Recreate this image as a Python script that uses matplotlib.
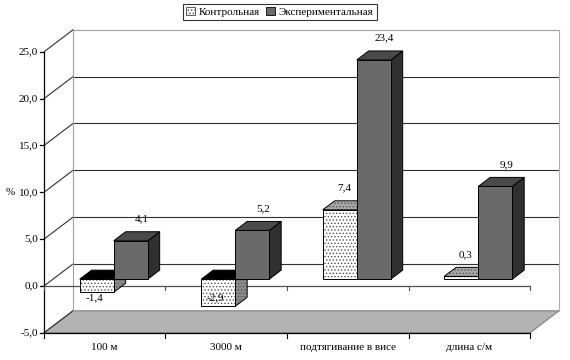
import matplotlib
matplotlib.use('Agg')
import matplotlib.pyplot as plt
from matplotlib.patches import Polygon, Patch

plt.rcParams['font.family'] = ['Liberation Serif', 'DejaVu Serif']
plt.rcParams['hatch.linewidth'] = 0.6

# data
categories = ['100 м', '3000 м', 'подтягивание в висе', 'длина с/м']
series = ['Контрольная', 'Экспериментальная']
control = [-1.4, -2.9, 7.4, 0.3]
experiment = [4.1, 5.2, 23.4, 9.9]
yticks = [-5, 0, 5, 10, 15, 20, 25]

# 3d look (in data units)
DX, DY = 0.239, 2.35          # wall depth
F0, F1 = 0.31, 0.72           # bar front / back depth fraction
BW = 0.28                     # bar width

fig = plt.figure(figsize=(5.7, 3.6), dpi=100)
ax = fig.add_axes([0, 0, 1, 1])
ax.set_xlim(-0.362, 4.329)
ax.set_ylim(-7.90, 30.53)
ax.axis('off')

ymin, ymax = yticks[0], yticks[-1]
n = len(categories)

# floor
ax.add_patch(Polygon([(0, ymin), (n, ymin), (n + DX, ymin + DY), (DX, ymin + DY)],
                     closed=True, facecolor='#b3b3b3', edgecolor='#808080', lw=0.8, zorder=1))
# back wall grid and side wall diagonals
for v in yticks:
    col = '#a0a0a0' if v == ymax else '#303030'
    if v != ymin:
        ax.plot([DX, n + DX], [v + DY, v + DY], color=col, lw=0.8, zorder=2)
    ax.plot([0, DX], [v, v + DY], color='#303030', lw=0.8, zorder=2)
ax.plot([DX, DX], [ymin + DY, ymax + DY], color='#a0a0a0', lw=0.8, zorder=2)
ax.plot([n + DX, n + DX], [ymin + DY, ymax + DY], color='#b0b0b0', lw=0.8, zorder=2)

# front value axis
ax.plot([0, 0], [ymin, ymax], color='black', lw=0.9, zorder=3)
for v in yticks:
    ax.plot([-0.035, 0], [v, v], color='black', lw=0.9, zorder=3)
    ax.text(-0.05, v, f'{v:.1f}'.replace('.', ','), ha='right', va='center', fontsize=8)
ax.text(-0.28, 10, '%', ha='center', va='center', fontsize=8)

# category axis lines (0 level and floor level)
ax.plot([0, n], [0, 0], color='#505050', lw=0.9, zorder=3)
ax.plot([0, n], [ymin, ymin], color='black', lw=0.9, zorder=3)
for i in range(n + 1):
    ax.plot([i, i], [0, -0.45], color='#505050', lw=0.8, zorder=3)
    ax.plot([i, i], [ymin, ymin - 0.55], color='black', lw=0.8, zorder=3)
for i, c in enumerate(categories):
    ax.text(i + 0.5, ymin - 1.6, c, ha='center', va='center', fontsize=8)


def bar(x0, v, front, top, side, hatch=None, z=5):
    x1 = x0 + BW
    b, t = min(0, v), max(0, v)
    ax0, ay0 = F0 * DX, F0 * DY
    ax1, ay1 = F1 * DX, F1 * DY
    faces = [
        ([(x1 + ax0, b + ay0), (x1 + ax1, b + ay1), (x1 + ax1, t + ay1), (x1 + ax0, t + ay0)], side),
        ([(x0 + ax0, t + ay0), (x1 + ax0, t + ay0), (x1 + ax1, t + ay1), (x0 + ax1, t + ay1)], top),
        ([(x0 + ax0, b + ay0), (x1 + ax0, b + ay0), (x1 + ax0, t + ay0), (x0 + ax0, t + ay0)], front),
    ]
    for pts, fc in faces:
        if hatch and fc != 'black':
            ax.add_patch(Polygon(pts, closed=True, facecolor=fc, edgecolor='#505050',
                                 hatch=hatch, lw=0, zorder=z))
            ax.add_patch(Polygon(pts, closed=True, fill=False, edgecolor='black', lw=0.7, zorder=z))
        else:
            ax.add_patch(Polygon(pts, closed=True, facecolor=fc, edgecolor='black', lw=0.7, zorder=z))


def label(x, v, dx):
    s = f'{v:.1f}'.replace('.', ',')
    if v >= 0:
        ax.text(x + dx, v + F0 * DY + 2.35, s, ha='center', va='center', fontsize=8, zorder=10)
    else:
        ax.text(x - 0.02, -1.3, s, ha='center', va='center', fontsize=8, zorder=10)


for i in range(n):
    cx = i + 0.5
    vc, ve = control[i], experiment[i]
    bar(cx - BW, vc, 'white', 'black' if vc < 0 else '#a8a8a8', '#8c8c8c', hatch='.....', z=5)
    bar(cx, ve, '#6a6a6a', '#4a4a4a', '#303030', z=6)
    label(cx - BW / 2 + F0 * DX, vc, 0.035)
    label(cx + BW / 2 + F0 * DX, ve, 0.09)

handles = [Patch(facecolor='white', edgecolor='#404040', hatch='.....', lw=0.6),
           Patch(facecolor='#6a6a6a', edgecolor='black', lw=0.6)]
leg = fig.legend(handles, series, loc='upper center', bbox_to_anchor=(0.491, 0.99), ncol=2,
                 fontsize=8, frameon=True, fancybox=False, handlelength=0.8, handleheight=0.8,
                 handletextpad=0.3, columnspacing=0.6, borderpad=0.3, borderaxespad=0)
leg.get_frame().set_edgecolor('black')
leg.get_frame().set_linewidth(0.8)

fig.savefig('out.png', dpi=100)
